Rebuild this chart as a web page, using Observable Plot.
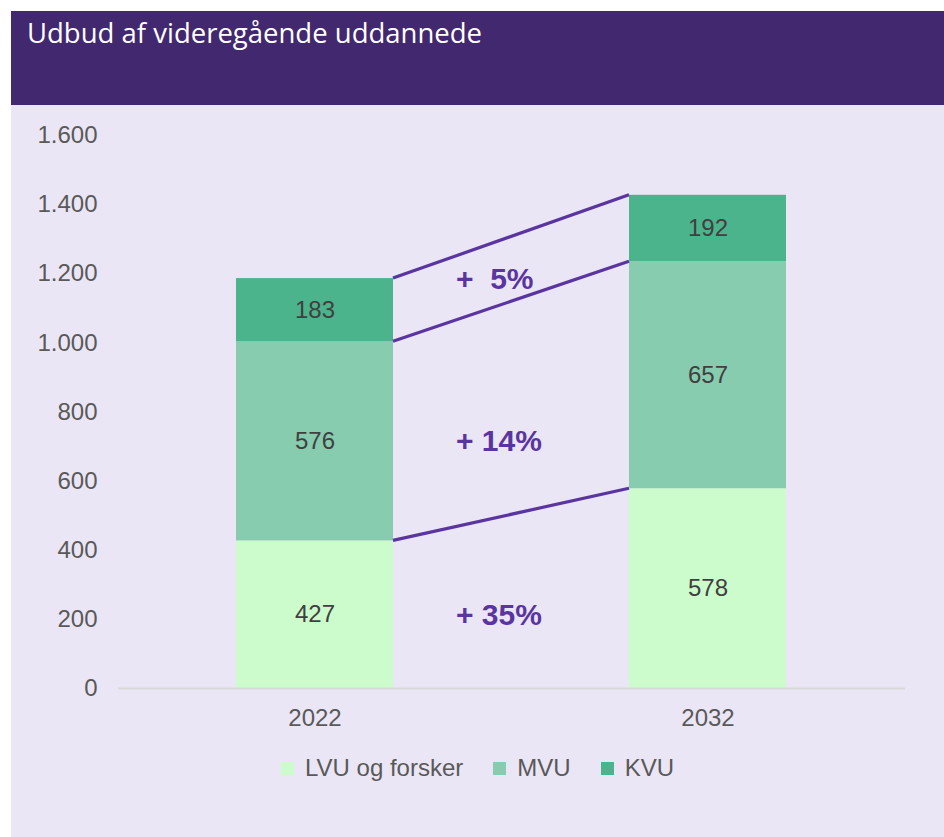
<!DOCTYPE html>
<html><head><meta charset="utf-8">
<script src="https://cdn.jsdelivr.net/npm/d3@7"></script>
<script src="https://cdn.jsdelivr.net/npm/@observablehq/plot@0.6"></script>
<style>
body{margin:0;background:#fff;}
#wrap{position:absolute;left:11px;top:11px;width:933px;height:826px;}
#title{height:94px;background:#42286e;color:#fff;font-family:"Open Sans",sans-serif;font-size:27.5px;padding:3px 0 0 16px;box-sizing:border-box;line-height:38px;}
#panel{height:732px;background:#ebe6f5;position:relative;}
#chart{position:absolute;left:0;top:0;}
#legend{position:absolute;left:0;top:640px;width:933px;height:46px;display:flex;justify-content:center;align-items:center;font-family:"Liberation Sans",Arial,sans-serif;font-size:24px;color:#595959;}
#legend .item{display:flex;align-items:center;margin:0 15px;}
#legend .sw{width:13px;height:13px;margin-right:11px;}
</style>
</head><body>
<div id="wrap">
  <div id="title"></div>
  <div id="panel"><div id="chart"></div><div id="legend"></div></div>
</div>
<script>
const title = "Udbud af videregående uddannede";
const years = ["2022", "2032"];
const categories = ["LVU og forsker", "MVU", "KVU"];
const values2022 = [427, 576, 183];
const values2032 = [578, 657, 192];
const colors = ["#ccfccc", "#88ccb0", "#4cb48c"];
const yTicks = [0, 200, 400, 600, 800, 1000, 1200, 1400, 1600];

document.getElementById("title").textContent = title;

const data = [];
years.forEach((yr, i) => {
  const vals = i === 0 ? values2022 : values2032;
  categories.forEach((c, j) => data.push({year: yr, cat: c, value: vals[j]}));
});

const locale = d3.formatLocale({decimal: ",", thousands: ".", grouping: [3], currency: ["", " kr."]});
const fmt = locale.format(",d");

const chart = Plot.plot({
  width: 933, height: 640,
  marginLeft: 107, marginRight: 39, marginTop: 30, marginBottom: 57,
  style: {background: "transparent", fontFamily: "'Liberation Sans', Arial, sans-serif", fontSize: "24px", color: "#595959", overflow: "visible"},
  x: {domain: years, paddingInner: 0.6, paddingOuter: 0.3, label: null},
  y: {domain: [0, 1600], label: null},
  color: {domain: categories, range: colors},
  marks: [
    Plot.axisY({ticks: yTicks, tickFormat: fmt, tickSize: 0, tickPadding: 21, label: null}),
    Plot.axisX({tickSize: 0, tickPadding: 20, label: null}),
    Plot.barY(data, {x: "year", y: "value", fill: "cat", order: categories}),
    Plot.ruleY([0], {stroke: "#d9d9d9", strokeWidth: 2}),
    Plot.text(data, Plot.stackY({x: "year", y: "value", z: "cat", text: "value", fill: "#404040", order: categories}))
  ]
});
document.getElementById("chart").appendChild(chart);

// connectors and growth labels, positioned through Plot's own scales
const xs = chart.scale("x"), ys = chart.scale("y");
const bw = xs.bandwidth;
const cumA = d3.cumsum(values2022), cumB = d3.cumsum(values2032);
const xA = xs.apply("2022") + bw, xB = xs.apply("2032");
const g = d3.select(chart).append("g");
categories.forEach((c, k) => {
  g.append("line")
    .attr("x1", xA).attr("y1", ys.apply(cumA[k]))
    .attr("x2", xB).attr("y2", ys.apply(cumB[k]))
    .attr("stroke", "#5a35a0").attr("stroke-width", 3.2);
  const pct = Math.round((values2032[k] / values2022[k] - 1) * 100);
  const label = "+ " + (pct + "%").padStart(3, " ");
  const yv = k < 2 ? cumA[k] - values2022[k] / 2 : cumA[k];
  g.append("text")
    .attr("x", xA + (xB - xA) * 0.267).attr("y", ys.apply(yv)).attr("dy", "0.35em")
    .attr("text-anchor", "start")
    .attr("fill", "#5a35a0").attr("font-weight", "bold").attr("font-size", 30)
    .attr("font-family", "'Liberation Sans', Arial, sans-serif")
    .style("white-space", "pre")
    .text(label);
});

const legend = d3.select("#legend");
categories.forEach((c, i) => {
  const it = legend.append("div").attr("class", "item");
  it.append("div").attr("class", "sw").style("background", colors[i]);
  it.append("span").text(c);
});
</script>
</body></html>
